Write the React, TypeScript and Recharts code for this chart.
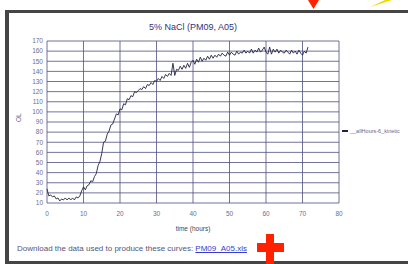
import React from "react";
import { LineChart, Line, XAxis, YAxis, CartesianGrid, Legend, Label } from "recharts";

// time in hours, read every half hour off the trace
const hours = [
  0, 0.5, 1, 1.5, 2, 2.5, 3, 3.5, 4, 4.5, 5, 5.5, 6, 6.5, 7, 7.5, 8, 8.5, 9, 9.5,
  10, 10.5, 11, 11.5, 12, 12.5, 13, 13.5, 14, 14.5, 15, 15.5, 16, 16.5, 17, 17.5, 18, 18.5, 19, 19.5,
  20, 20.5, 21, 21.5, 22, 22.5, 23, 23.5, 24, 24.5, 25, 25.5, 26, 26.5, 27, 27.5, 28, 28.5, 29, 29.5,
  30, 30.5, 31, 31.5, 32, 32.5, 33, 33.5, 34, 34.5, 35, 35.5, 36, 36.5, 37, 37.5, 38, 38.5, 39, 39.5,
  40, 40.5, 41, 41.5, 42, 42.5, 43, 43.5, 44, 44.5, 45, 45.5, 46, 46.5, 47, 47.5, 48, 48.5, 49, 49.5,
  50, 50.5, 51, 51.5, 52, 52.5, 53, 53.5, 54, 54.5, 55, 55.5, 56, 56.5, 57, 57.5, 58, 58.5, 59, 59.5,
  60, 60.5, 61, 61.5, 62, 62.5, 63, 63.5, 64, 64.5, 65, 65.5, 66, 66.5, 67, 67.5, 68, 68.5, 69, 69.5,
  70, 70.5, 71, 71.5,
];

const kinetic = [
  24, 17, 18, 16, 17, 14, 15, 12, 14, 13, 15, 13, 15, 13, 15, 13, 16, 15, 17, 22,
  26, 23, 27, 28, 32, 31, 36, 39, 47, 51, 59, 70, 71, 78, 81, 87, 88, 93, 98, 97,
  103, 102, 108, 107, 113, 112, 116, 115, 120, 119, 121, 123, 122, 125, 123, 127, 126, 129, 127, 131,
  130, 133, 131, 135, 133, 137, 135, 138, 136, 148, 136, 142, 141, 145, 142, 146, 143, 148, 144, 149,
  151, 147, 152, 149, 154, 150, 153, 151, 155, 152, 156, 153, 156, 154, 157, 155, 158, 156, 155, 159,
  156, 159, 157, 156, 160, 157, 159, 158, 161, 158, 160, 158, 162, 158, 161, 159, 163, 159, 161, 164,
  159, 157, 164, 157, 162, 159, 162, 158, 161, 159, 158, 161, 159, 157, 161, 158, 160, 157, 161, 158,
  156, 160, 158, 164,
];

const xTicks = [0, 10, 20, 30, 40, 50, 60, 70, 80];
const yTicks = [10, 20, 30, 40, 50, 60, 70, 80, 90, 100, 110, 120, 130, 140, 150, 160, 170];

const seriesName = "__allHours-6_kinetic";
const title = "5% NaCl (PM09, A05)";

const data = hours.map((t, i) => ({ t, od: kinetic[i] }));

const font = "'Liberation Sans', Arial, sans-serif";
const grid = "#4f4f80";

const LegendBox = () => (
  <div style={{ display: "flex", alignItems: "center", fontFamily: font, fontSize: 5.5, color: "#666688" }}>
    <span style={{ display: "inline-block", width: 6, height: 1.5, background: "#222244", marginRight: 2 }} />
    {seriesName}
  </div>
);

export default function App() {
  return (
    <div style={{ position: "fixed", left: 0, top: 0, width: 408, height: 264, background: "#fff", overflow: "hidden" }}>
      {/* page frame */}
      <div style={{ position: "absolute", left: 5, top: 10, width: 410, height: 3, background: "#454545" }} />
      <div style={{ position: "absolute", left: 5, top: 10, width: 4, height: 260, background: "#454545" }} />
      <div style={{ position: "absolute", left: 5, top: 261, width: 410, height: 3, background: "#454545" }} />

      <div style={{ position: "absolute", left: 0, top: 22, width: 386, textAlign: "center", fontFamily: font, fontSize: 9, color: "#333377" }}>
        {title}
      </div>

      <div style={{ position: "absolute", left: 0, top: 0 }}>
        <LineChart width={408} height={264} data={data} margin={{ top: 41, right: 69, bottom: 35, left: 0 }}>
          <CartesianGrid stroke={grid} strokeWidth={0.8} horizontalValues={yTicks} verticalValues={xTicks} />
          <XAxis
            dataKey="t"
            type="number"
            domain={[0, 80]}
            ticks={xTicks}
            interval={0}
            height={20}
            axisLine={false}
            tickLine={false}
            tickSize={4}
            tickMargin={4}
            tick={{ fontSize: 6.5, fill: "#6e6e90", fontFamily: font }}
          >
            <Label value="time (hours)" position="bottom" offset={3} style={{ fontSize: 6.5, fill: "#444455", fontFamily: font }} />
          </XAxis>
          <YAxis
            type="number"
            domain={[10, 170]}
            ticks={yTicks}
            interval={0}
            width={47}
            axisLine={false}
            tickLine={false}
            tickSize={2}
            tickMargin={2}
            tick={{ fontSize: 6.5, fill: "#6e6e90", fontFamily: font }}
          >
            <Label value="OL" angle={-90} position="insideLeft" offset={19} style={{ fontSize: 6.5, fill: "#6e6e90", fontFamily: font }} />
          </YAxis>
          <Legend content={LegendBox} wrapperStyle={{ left: 342, top: 128, width: 66 }} />
          <Line
            type="linear"
            dataKey="od"
            name={seriesName}
            stroke="#222244"
            strokeWidth={0.9}
            dot={false}
            isAnimationActive={false}
          />
        </LineChart>
      </div>

      <div style={{ position: "absolute", left: 17, top: 244, fontFamily: font, fontSize: 8, color: "#55557a", whiteSpace: "nowrap" }}>
        Download the data used to produce these curves:{" "}
        <span style={{ color: "#3a3acc", textDecoration: "underline" }}>PM09_A05.xls</span>
      </div>

      {/* annotations drawn over the screenshot */}
      <svg width={408} height={264} style={{ position: "absolute", left: 0, top: 0 }}>
        <polygon points="308,0 319,0 313.5,9" fill="#ff2200" />
        <polygon points="370,7 385,0 392,0" fill="#f0d800" />
        <rect x={266} y={234} width={8} height={30} fill="#ff2200" />
        <rect x={257} y={243} width={27} height={9} fill="#ff2200" />
      </svg>
    </div>
  );
}
